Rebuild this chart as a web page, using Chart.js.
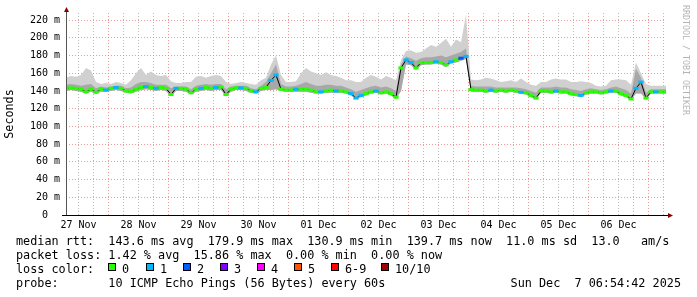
<!DOCTYPE html>
<html lang="en">
<head>
<meta charset="UTF-8">
<title>SmokePing latency - 10 days</title>
<script src="https://cdn.jsdelivr.net/npm/chart.js"></script>
<style>
  body {
    margin: 0;
    background: #fff;
    width: 697px;
    height: 297px;
    overflow: hidden;
    position: relative;
    font-family: 'DejaVu Sans Mono', monospace;
  }
  canvas { position: absolute; left: 0; top: 0; }
  .leg {
    position: absolute;
    font-size: 11.8px;
    line-height: 14px;
    white-space: pre;
    color: #000;
  }
  .box {
    position: absolute;
    top: 263px;
    width: 6px;
    height: 6px;
    border: 1px solid #000;
  }
  .credit {
    position: absolute;
    left: 681px;
    top: 5px;
    writing-mode: vertical-rl;
    font-size: 8.3px;
    color: #b4b4b4;
    white-space: pre;
  }
</style>
</head>
<body>

<canvas id="chart" width="697" height="297"></canvas>

<div class="leg" style="left:16px; top:234px">median rtt:  143.6 ms avg  179.9 ms max  130.9 ms min  139.7 ms now  11.0 ms sd  13.0   am/s</div>
<div class="leg" style="left:16px; top:248px">packet loss: 1.42 % avg  15.86 % max  0.00 % min  0.00 % now</div>
<div class="leg" style="left:16px; top:262px">loss color:</div>
<div id="lossLegend"></div>
<div class="leg" style="left:16px; top:276px">probe:       10 ICMP Echo Pings (56 Bytes) every 60s</div>
<div class="leg" style="right:16px; top:276px">Sun Dec  7 06:54:42 2025</div>
<div class="credit">RRDTOOL / TOBI OETIKER</div>

<script>
// x axis: hours since Nov 27 07:00, one sample every 2 hours
const dayLabels = ['27 Nov', '28 Nov', '29 Nov', '30 Nov', '01 Dec', '02 Dec', '03 Dec', '04 Dec', '05 Dec', '06 Dec'];

// median rtt (ms)
const median = [
  143, 143.5, 143, 142, 139, 142, 138.5, 142, 141, 143,
  144, 143, 140, 139.5, 142, 144, 145, 144, 143, 144,
  143, 136, 143, 143, 142, 138, 142, 143, 144, 143,
  144, 144.5, 136, 142, 143.5, 143.5, 143, 140, 139, 143,
  144, 152, 158, 142, 141, 141, 142, 142, 142, 141,
  139, 139, 140, 141, 140, 140, 139, 137, 132, 135,
  137, 139, 140, 138, 139, 137, 133, 166, 175, 172,
  166, 172, 172, 172, 173, 172, 169.5, 173, 175, 177,
  179, 141.5, 141, 141, 140, 141, 140, 141, 140, 141,
  140, 138.5, 138, 135, 132, 140, 140, 139, 140, 139,
  139, 137, 136, 135, 138, 139, 139, 138, 139, 140,
  140, 137, 135, 131, 143, 150, 132, 139, 139, 139,
  139
];

// upper edge of the smoke (ms)
const smokeHi = [
  155, 157, 156, 158, 166, 163, 150, 148, 149, 148,
  150, 149, 147, 152, 160, 166, 158, 162, 158, 157,
  158, 151, 149, 149, 150, 150, 156, 157, 155, 157,
  158, 157, 150, 148, 149, 150, 149, 148, 147, 152,
  155, 170, 180, 158, 150, 150, 151, 160, 166, 162,
  160, 158, 161, 158, 157, 155, 152, 152, 150, 150,
  155, 158, 156, 153, 157, 155, 152, 175, 185, 186,
  183, 184, 188, 192, 190, 194, 199, 190, 198, 195,
  226, 153, 152, 153, 155, 154, 152, 150, 151, 152,
  150, 154, 150, 147, 146, 150, 150, 153, 154, 153,
  153, 150, 150, 151, 150, 149, 146, 145, 146, 152,
  153, 153, 152, 147, 172, 160, 148, 146, 146, 146,
  146
];

// upper edge of the dense (darker) smoke (ms)
const smokeMid = [
  147, 148, 147, 146, 147, 148, 143, 145, 144, 145,
  146, 146, 143, 144, 148, 150, 150, 149, 147, 147,
  147, 143, 145, 145, 145, 142, 146, 147, 148, 147,
  148, 148, 142, 145, 146, 146, 146, 143, 142, 146,
  150, 160, 170, 148, 145, 145, 146, 148, 150, 148,
  146, 146, 147, 147, 146, 146, 144, 142, 139, 141,
  143, 145, 146, 144, 145, 143, 140, 170, 179, 177,
  174, 177, 178, 178, 179, 180, 178, 180, 182, 184,
  188, 146, 145, 145, 145, 145, 144, 144, 144, 144,
  144, 143, 142, 140, 138, 144, 144, 144, 145, 144,
  144, 142, 141, 140, 142, 143, 142, 141, 142, 144,
  145, 143, 141, 137, 165, 155, 138, 142, 142, 142,
  142
];

// lower edge of the smoke (ms)
const smokeLo = [
  140, 141, 140, 139, 137, 139, 137, 139, 139, 140,
  141, 140, 138, 137, 139, 141, 142, 141, 140, 141,
  140, 134, 140, 140, 139, 136, 139, 140, 141, 140,
  141, 141, 134, 139, 141, 141, 140, 138, 137, 140,
  141, 141, 142, 140, 139, 139, 139, 139, 139, 138,
  137, 137, 138, 138, 138, 138, 137, 135, 131, 133,
  135, 137, 138, 136, 137, 135, 131, 140, 170, 169,
  164, 169, 170, 170, 171, 170, 167, 171, 172, 174,
  176, 139, 139, 139, 138, 139, 138, 139, 138, 139,
  138, 137, 136, 133, 131, 138, 138, 137, 138, 137,
  137, 135, 134, 133, 136, 137, 137, 136, 137, 138,
  138, 135, 133, 130, 137, 137, 131, 137, 137, 137,
  137
];

// lost pings out of 10 per sample
const loss = [
  0, 0, 0, 0, 0, 0, 0, 0, 1, 0,
  1, 0, 0, 0, 0, 0, 1, 0, 1, 0,
  0, 0, 1, 0, 0, 0, 0, 1, 0, 0,
  1, 0, 0, 0, 0, 1, 0, 0, 1, 0,
  0, 1, 1, 0, 0, 0, 1, 0, 0, 0,
  0, 1, 0, 0, 1, 0, 0, 1, 1, 1,
  0, 0, 1, 0, 0, 0, 0, 0, 1, 1,
  0, 0, 0, 0, 1, 0, 0, 1, 0, 2,
  1, 0, 0, 0, 0, 1, 0, 0, 0, 0,
  0, 1, 0, 0, 0, 0, 0, 0, 1, 0,
  0, 0, 0, 1, 0, 0, 0, 0, 0, 1,
  0, 0, 0, 0, 1, 1, 0, 0, 1, 0,
  0
];

const lossNames = ['0', '1', '2', '3', '4', '5', '6-9', '10/10'];
const lossColors = ['#26ff00', '#00b8ff', '#0059ff', '#7e00ff', '#ff00ff', '#ff5500', '#ff0000', '#a10000'];

const hours = median.map((_, i) => i * 2);
const pts = arr => arr.map((v, i) => ({ x: hours[i], y: v }));

// loss colour legend
const legendX = [108, 146, 183, 220, 257, 294, 331, 381];
const lossLegend = document.getElementById('lossLegend');
lossNames.forEach((name, i) => {
  const b = document.createElement('div');
  b.className = 'box';
  b.style.left = legendX[i] + 'px';
  b.style.background = lossColors[i];
  lossLegend.appendChild(b);
  const t = document.createElement('div');
  t.className = 'leg';
  t.style.left = (legendX[i] + 14) + 'px';
  t.style.top = '262px';
  t.textContent = name;
  lossLegend.appendChild(t);
});

const gridRed = 'rgba(230, 120, 120, 0.75)';
const gridGray = 'rgba(180, 180, 180, 0.9)';
const axisFont = { family: 'DejaVu Sans Mono', size: 10 };

// axis lines with arrow heads, rrdtool style
const axesPlugin = {
  id: 'axes',
  afterDraw(chart) {
    const { ctx, chartArea: a } = chart;
    const x0 = Math.round(a.left) + 0.5;
    const y0 = Math.round(a.bottom) + 0.5;
    ctx.save();
    ctx.lineWidth = 1;
    ctx.strokeStyle = '#555';
    ctx.beginPath();
    ctx.moveTo(x0, y0);
    ctx.lineTo(x0, a.top - 3);
    ctx.stroke();
    ctx.strokeStyle = '#000';
    ctx.beginPath();
    ctx.moveTo(a.left - 4, y0);
    ctx.lineTo(a.right + 3, y0);
    ctx.stroke();
    ctx.fillStyle = '#8b0000';
    ctx.beginPath();
    ctx.moveTo(x0, a.top - 6);
    ctx.lineTo(x0 - 2.5, a.top - 1);
    ctx.lineTo(x0 + 2.5, a.top - 1);
    ctx.closePath();
    ctx.fill();
    ctx.beginPath();
    ctx.moveTo(a.right + 7, y0);
    ctx.lineTo(a.right + 2, y0 - 2.5);
    ctx.lineTo(a.right + 2, y0 + 2.5);
    ctx.closePath();
    ctx.fill();
    ctx.restore();
  }
};

new Chart(document.getElementById('chart'), {
  type: 'line',
  data: {
    datasets: [
      { data: pts(smokeLo), borderWidth: 0, pointRadius: 0, fill: false, order: 4 },
      { data: pts(smokeHi), borderWidth: 0, pointRadius: 0, fill: '-1',
        backgroundColor: '#d0d0d0', order: 3 },
      { data: pts(smokeMid), borderWidth: 0, pointRadius: 0, fill: '-2',
        backgroundColor: '#a8a8a8', order: 2 },
      { data: pts(median), borderColor: '#000', borderWidth: 1, pointRadius: 0, fill: false, order: 1 },
      { data: pts(median), showLine: false, fill: false, order: 0,
        pointStyle: 'line', pointRadius: 2.6, pointBorderWidth: 3,
        pointBorderColor: loss.map(l => lossColors[l]) }
    ]
  },
  options: {
    responsive: false,
    animation: false,
    events: [],
    layout: { padding: { left: 0, right: 31, top: 13, bottom: 0 } },
    plugins: { legend: { display: false }, tooltip: { enabled: false } },
    scales: {
      x: {
        type: 'linear',
        min: 0,
        max: 240,
        afterBuildTicks: s => {
          const t = [];
          for (let h = 5; h <= 240; h += 6) t.push({ value: h });
          s.ticks = t;
        },
        afterFit: s => { s.height = 82; },
        grid: {
          drawTicks: false,
          lineWidth: 1,
          color: c => ((c.tick.value - 17) % 24 === 0 ? gridRed : gridGray)
        },
        border: { display: false, dash: [1, 2] },
        ticks: {
          autoSkip: false,
          maxRotation: 0,
          padding: 4,
          color: '#000',
          font: axisFont,
          callback: v => ((v - 5) % 24 === 0 ? dayLabels[(v - 5) / 24] : '')
        }
      },
      y: {
        min: 0,
        max: 228,
        afterBuildTicks: s => {
          const t = [];
          for (let v = 0; v <= 220; v += 10) t.push({ value: v });
          s.ticks = t;
        },
        afterFit: s => { s.width = 66; },
        grid: {
          drawTicks: false,
          lineWidth: 1,
          color: c => (c.tick.value % 20 === 0 ? gridRed : gridGray)
        },
        border: { display: false, dash: [1, 2] },
        ticks: {
          padding: 6,
          color: '#000',
          font: axisFont,
          callback: v => (v % 20 !== 0 ? '' : (v === 0 ? '0  ' : v + ' m'))
        },
        title: {
          display: true,
          text: 'Seconds',
          color: '#000',
          font: { family: 'DejaVu Sans Mono', size: 11.75 },
          padding: { top: 3, bottom: 0 }
        }
      }
    }
  },
  plugins: [axesPlugin]
});
</script>

</body>
</html>
